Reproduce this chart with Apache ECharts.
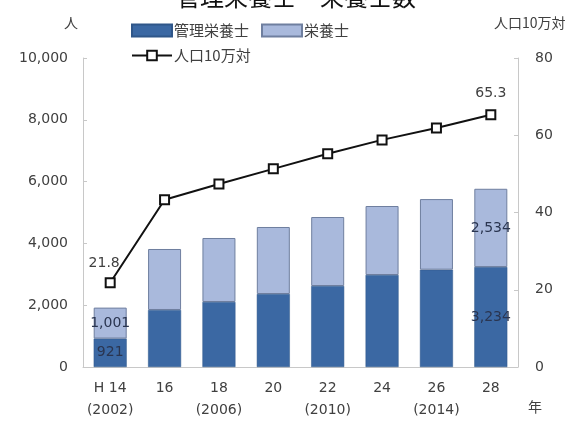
<!DOCTYPE html>
<html><head><meta charset="utf-8">
<script src="https://cdn.jsdelivr.net/npm/echarts@6/dist/echarts.min.js"></script>
<style>html,body{margin:0;padding:0;background:#fff}#c{width:570px;height:425px}</style>
</head><body><div id="c"></div>
<script>
const categories = ['H 14\n(2002)', '16', '18\n(2006)', '20', '22\n(2010)', '24', '26\n(2014)', '28'];
const kanriEiyoshi = [921, 1845, 2104, 2362, 2621, 2977, 3150, 3234];
const eiyoshi = [1001, 1974, 2071, 2169, 2233, 2233, 2284, 2534];
const per100k = [21.8, 43.3, 47.4, 51.3, 55.2, 58.8, 61.9, 65.3];
const labeledIdx = [0, 7];

const font = '"Noto Sans CJK JP", "Noto Sans", sans-serif';
const numFont = '"DejaVu Sans", sans-serif';
const txt = '#404040';
const chart = echarts.init(document.getElementById('c'));
const fmt = v => v.toLocaleString('en-US');
const barLabel = {
  show: true, position: 'inside', color: '#2a3550', fontSize: 14, fontFamily: numFont,
  formatter: p => labeledIdx.includes(p.dataIndex) ? fmt(p.value) : ''
};
chart.setOption({
  animation: false,
  textStyle: { fontFamily: font },
  graphic: [
    { type: 'text', left: 176, top: -15, style: { text: '管理栄養士・栄養士数', fontSize: 24, fontFamily: font, fill: '#111' } },
    { type: 'text', left: 64, top: 16, style: { text: '人', fontSize: 14, fontFamily: font, fill: txt } },
    { type: 'text', left: 494, top: 16, style: { text: '人口10万対', fontSize: 14, fontFamily: font, fill: txt } },
    { type: 'text', left: 528, top: 400, style: { text: '年', fontSize: 14, fontFamily: font, fill: txt } }
  ],
  legend: [
    { data: ['管理栄養士', '栄養士'], left: 126, top: 18, itemWidth: 40, itemHeight: 12, itemGap: 12,
      icon: 'rect', textStyle: { fontSize: 15, color: txt, fontFamily: font, padding: [0, 0, 0, -3] } },
    { data: ['人口10万対'], left: 126, top: 43, itemWidth: 40, itemHeight: 12,
      textStyle: { fontSize: 15, color: txt, fontFamily: font, padding: [0, 0, 0, -3] } }
  ],
  grid: { left: 83, right: 52, top: 58, bottom: 58 },
  xAxis: {
    type: 'category', data: categories,
    axisLine: { lineStyle: { color: '#c8c8c8' } },
    axisTick: { inside: true, length: 4, lineStyle: { color: '#c8c8c8' } },
    axisLabel: { color: txt, fontSize: 14, fontFamily: numFont, lineHeight: 22, margin: 10, interval: 0 }
  },
  yAxis: [
    { type: 'value', min: 0, max: 10000, interval: 2000,
      axisLine: { show: true, lineStyle: { color: '#c8c8c8' } },
      axisTick: { show: true, inside: true, length: 4, lineStyle: { color: '#c8c8c8' } },
      splitLine: { show: false },
      axisLabel: { color: txt, fontSize: 14, fontFamily: numFont, margin: 15, formatter: v => fmt(v) } },
    { type: 'value', min: 0, max: 80, interval: 20,
      axisLine: { show: true, lineStyle: { color: '#c8c8c8' } },
      axisTick: { show: true, inside: true, length: 4, lineStyle: { color: '#c8c8c8' } },
      splitLine: { show: false },
      axisLabel: { color: txt, fontSize: 14, fontFamily: numFont, margin: 17 } }
  ],
  series: [
    { name: '管理栄養士', type: 'bar', stack: 's', data: kanriEiyoshi, barWidth: 33,
      itemStyle: { color: '#3b68a3', borderColor: '#2f5689', borderWidth: 0.5 }, label: barLabel },
    { name: '栄養士', type: 'bar', stack: 's', data: eiyoshi, barWidth: 33,
      itemStyle: { color: '#a9b9dc', borderColor: '#6f7f9f', borderWidth: 1 }, label: barLabel },
    { name: '人口10万対', type: 'line', yAxisIndex: 1, data: per100k,
      symbol: 'rect', symbolSize: 9, showAllSymbol: true,
      lineStyle: { color: '#111', width: 2 },
      itemStyle: { color: '#fff', borderColor: '#111', borderWidth: 2 },
      label: { show: true, position: 'top', color: txt, fontSize: 14, fontFamily: numFont, distance: 9,
        formatter: p => labeledIdx.includes(p.dataIndex) ? p.value.toFixed(1) : '' },
      labelLayout: p => p.dataIndex === 0 ? { dx: -6, dy: 2 } : {} }
  ]
});
</script></body></html>
